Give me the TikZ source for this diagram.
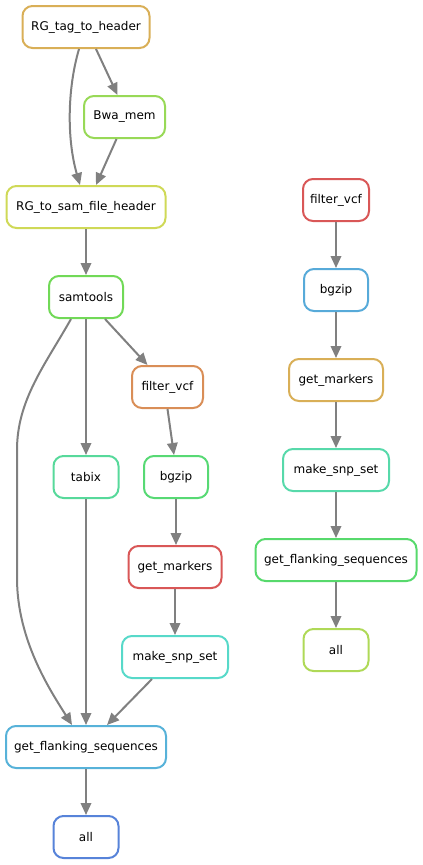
\documentclass[tikz,border=0pt]{standalone}
\usepackage{fontspec}
\setmainfont{DejaVu Sans}
\usetikzlibrary{arrows.meta}
\definecolor{cgold}{RGB}{217,175,87}
\definecolor{clime}{RGB}{152,217,87}
\definecolor{cyell}{RGB}{207,217,87}
\definecolor{cgreen}{RGB}{113,217,87}
\definecolor{corange}{RGB}{217,142,87}
\definecolor{cteal}{RGB}{87,217,155}
\definecolor{cgreenb}{RGB}{87,217,116}
\definecolor{cred}{RGB}{217,87,87}
\definecolor{ccyan}{RGB}{87,217,201}
\definecolor{cblue}{RGB}{87,178,217}
\definecolor{cdblue}{RGB}{87,131,217}
\definecolor{cblueb}{RGB}{87,170,217}
\definecolor{cmint}{RGB}{87,217,170}
\definecolor{cgreenc}{RGB}{87,217,108}
\definecolor{cyg}{RGB}{175,217,87}
\definecolor{edgegray}{RGB}{128,128,128}
\tikzset{
  job/.style={draw=#1, rounded corners=10pt, line width=2pt, minimum height=42pt,
    inner sep=0pt, fill=white, font=\fontsize{12pt}{14pt}\selectfont},
  wd/.style={minimum width=#1pt-2pt},
  dep/.style={draw=edgegray, line width=2pt, -{Triangle[length=12pt,width=10.5pt]}}
}
\begin{document}
\begin{tikzpicture}[x=1pt,y=-1pt]
\useasboundingbox (0,0) rectangle (423,865);
% left component
\node[job=cgold, wd=129] (rgtag) at (86,27) {RG\_tag\_to\_header};
\node[job=clime, wd=83] (bwa) at (124.5,117) {Bwa\_mem};
\node[job=cyell, wd=161] (rgsam) at (86,207) {RG\_to\_sam\_file\_header};
\node[job=cgreen, wd=76] (samtools) at (86,297) {samtools};
\node[job=corange, wd=73] (filterL) at (167.5,387) {filter\_vcf};
\node[job=cteal, wd=67] (tabix) at (86,477) {tabix};
\node[job=cgreenb, wd=66] (bgzipL) at (176,477) {bgzip};
\node[job=cred, wd=95] (gmL) at (175,567) {get\_markers};
\node[job=ccyan, wd=108] (snpL) at (175,657) {make\_snp\_set};
\node[job=cblue, wd=162] (flankL) at (86,747) {get\_flanking\_sequences};
\node[job=cdblue, wd=67] (allL) at (86,837) {all};
% right component
\node[job=cred, wd=68] (filterR) at (336,200) {filter\_vcf};
\node[job=cblueb, wd=66] (bgzipR) at (336,290) {bgzip};
\node[job=cgold, wd=96] (gmR) at (336,380) {get\_markers};
\node[job=cmint, wd=108] (snpR) at (336,470) {make\_snp\_set};
\node[job=cgreenc, wd=163] (flankR) at (336,560) {get\_flanking\_sequences};
\node[job=cyg, wd=67] (allR) at (336,650) {all};
% waypoints
\coordinate (w1) at (17,450);
\coordinate (w2) at (17,578);
% left edges
\draw[dep] ([xshift=10pt]rgtag.south) -- ([xshift=-7pt]bwa.north);
\draw[dep] ([xshift=-7pt]rgtag.south) .. controls (67,90) and (67,140) .. ([xshift=-6pt]rgsam.north);
\draw[dep] ([xshift=-8pt]bwa.south) -- ([xshift=10pt]rgsam.north);
\draw[dep] (rgsam) -- (samtools);
\draw[dep] ([xshift=19pt]samtools.south) -- ([xshift=-20pt]filterL.north);
\draw[dep] (samtools) -- (tabix);
\draw[dep] ([xshift=-15pt]samtools.south) .. controls (45,365) and (17,400) .. (w1) -- (w2) .. controls (17,640) and (50,690) .. ([xshift=-14pt]flankL.north);
\draw[dep] (filterL.south) -- ([xshift=-2pt]bgzipL.north);
\draw[dep] (bgzipL.south) -- ([xshift=1pt]gmL.north);
\draw[dep] (gmL) -- (snpL);
\draw[dep] (tabix) -- (flankL);
\draw[dep] ([xshift=-23pt]snpL.south) -- ([xshift=21pt]flankL.north);
\draw[dep] (flankL) -- (allL);
% right edges
\draw[dep] (filterR) -- (bgzipR);
\draw[dep] (bgzipR) -- (gmR);
\draw[dep] (gmR) -- (snpR);
\draw[dep] (snpR) -- (flankR);
\draw[dep] (flankR) -- (allR);
\end{tikzpicture}
\end{document}
